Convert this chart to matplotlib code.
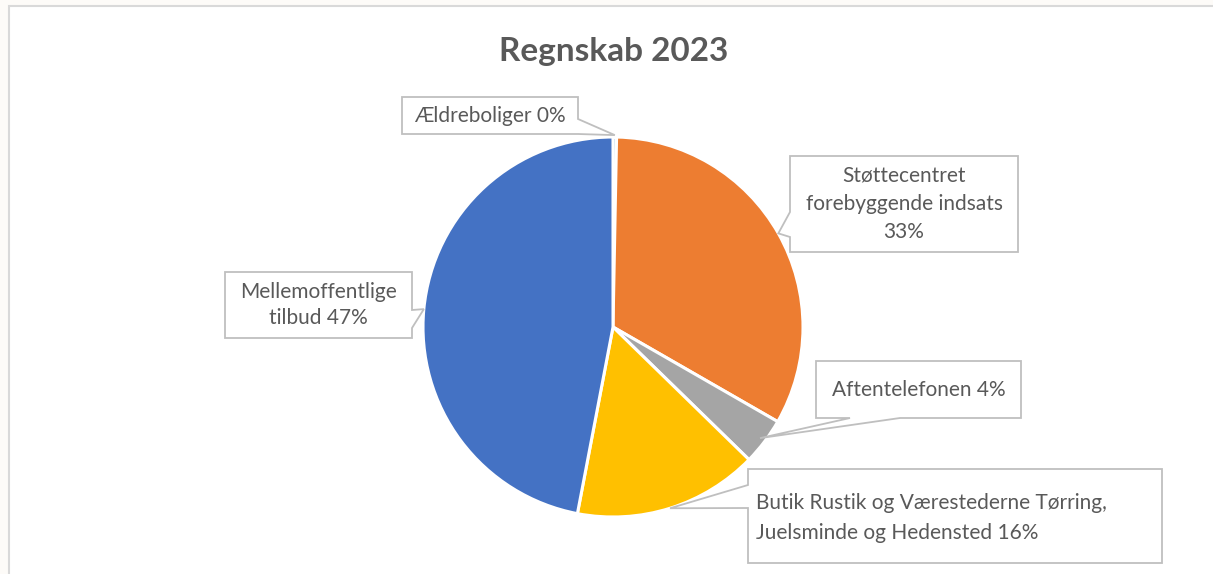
import numpy as np
import matplotlib
matplotlib.use("Agg")
import matplotlib.pyplot as plt
from matplotlib.patches import Polygon, Rectangle

# -----------------------------
# Data
# -----------------------------
labels = [
    "Ældreboliger",
    "Støttecentret\nforebyggende indsats",
    "Aftentelefonen",
    "Butik Rustik og Værestederne Tørring,\nJuelsminde og Hedensted",
    "Mellemoffentlige\ntilbud",
]
values = [0.3, 33.0, 4.0, 15.7, 47.0]
colors = ["#5B9BD5", "#ED7D31", "#A5A5A5", "#FFC000", "#4472C4"]
title = "Regnskab 2023"

# -----------------------------
# Layout (pixels, top-left origin)
# -----------------------------
W, H = 1213, 574
CX, CY, R = 613, 327, 190
TEXT = "#595959"
EDGE = "#BFBFBF"
FONT = "Lato"

# box (x0, y0, x1, y1), pointer side, pointer base offsets along side,
# tip radius fraction, separator before the percent, line spacing
boxes = [
    ((402, 97, 578, 134), "right", (119, 134), 1.01, " ", 1.35),
    ((790, 156, 1018, 252), "left", (212, 237), 1.0, "\n", 1.5),
    ((816, 361, 1021, 418), "bottom", (850, 900), 0.97, " ", 1.35),
    ((748, 469, 1162, 563), "left", (485, 508), 1.0, " ", 1.6),
    ((225, 272, 412, 338), "right", (310, 328), 1.0, " ", 1.4),
]


def fy(y):
    return H - y


fig = plt.figure(figsize=(W / 100, H / 100), dpi=100)
fig.patch.set_facecolor("#FDFBF8")
ax = fig.add_axes([0, 0, 1, 1])

# chart area border
ax.add_patch(Rectangle((9, -10), W + 20, fy(6) + 10, facecolor="white",
                       edgecolor="#D9D9D9", linewidth=1.5, zorder=0))

wedges, _ = ax.pie(values, colors=colors, startangle=90, counterclock=False,
                   center=(CX, fy(CY)), radius=R, frame=True,
                   wedgeprops=dict(edgecolor="white", linewidth=2.2))
ax.set_xlim(0, W)
ax.set_ylim(0, H)
ax.set_aspect("equal")
ax.axis("off")

ax.text(CX + 1, fy(52), title, ha="center", va="center", fontsize=24,
        fontweight="bold", color=TEXT, family=[FONT, "DejaVu Sans"])

total = sum(values)
for w, lab, val, (box, side, base, rfrac, sep, ls) in zip(wedges, labels, values, boxes):
    x0, y0, x1, y1 = box
    mid = np.deg2rad((w.theta1 + w.theta2) / 2)
    tx = CX + R * rfrac * np.cos(mid)
    ty = fy(CY) + R * rfrac * np.sin(mid)
    b0, b1 = base
    # outline with the pointer inserted where None sits
    if side == "right":
        pts = [(x0, y0), (x1, y0), (x1, b0), None, (x1, b1), (x1, y1), (x0, y1)]
    elif side == "left":
        pts = [(x0, y0), (x1, y0), (x1, y1), (x0, y1), (x0, b1), None, (x0, b0)]
    else:
        pts = [(x0, y0), (x1, y0), (x1, y1), (b1, y1), None, (b0, y1), (x0, y1)]
    poly = [(tx, ty) if p is None else (p[0], fy(p[1])) for p in pts]
    ax.add_patch(Polygon(poly, closed=True, facecolor="white", edgecolor=EDGE,
                         linewidth=1.3, zorder=5))
    pct = f"{round(val / total * 100):.0f}%"
    txt = lab + sep + pct
    if lab.startswith("Butik"):
        ax.text(x0 + 8, fy((y0 + y1) / 2 + 2), txt, ha="left", va="center",
                fontsize=15, color=TEXT, linespacing=ls, zorder=6,
                family=[FONT, "DejaVu Sans"])
    else:
        ax.text((x0 + x1) / 2, fy((y0 + y1) / 2), txt, ha="center", va="center",
                fontsize=15, color=TEXT, linespacing=ls, zorder=6,
                family=[FONT, "DejaVu Sans"], multialignment="center")

fig.savefig("out.png", dpi=100, facecolor=fig.get_facecolor())
